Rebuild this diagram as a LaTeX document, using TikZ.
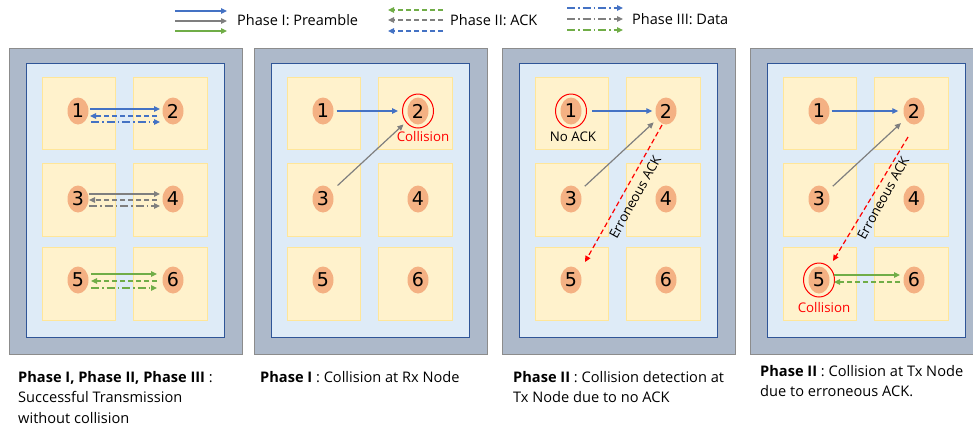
\documentclass[tikz,border=0pt]{standalone}
\usepackage{fontspec}
\setmainfont{Open Sans}
\newfontfamily\numfont{DejaVu Sans}
\usetikzlibrary{arrows.meta,calc,shapes.geometric}
\definecolor{outerfill}{HTML}{ADB9CA}
\definecolor{outerline}{HTML}{8C8C8C}
\definecolor{innerfill}{HTML}{DEEBF7}
\definecolor{innerline}{HTML}{2F5597}
\definecolor{sqfill}{HTML}{FFF2CC}
\definecolor{sqline}{HTML}{FFE699}
\definecolor{nodefill}{HTML}{F4B183}
\definecolor{cblue}{HTML}{4472C4}
\definecolor{cgray}{HTML}{7F7F7F}
\definecolor{cgreen}{HTML}{70AD47}
\definecolor{cred}{HTML}{FF0000}
\tikzset{
  outerbox/.style={fill=outerfill,draw=outerline,line width=0.8pt},
  innerbox/.style={fill=innerfill,draw=innerline,line width=1pt},
  sqbox/.style={fill=sqfill,draw=sqline,line width=0.8pt},
  num/.style={ellipse,fill=nodefill,inner sep=0pt,minimum width=21pt,minimum height=27pt,font=\numfont\fontsize{19}{19}\selectfont},
  redring/.style={ellipse,draw=cred,line width=1pt,minimum width=31pt,minimum height=34pt,inner sep=0pt},
  arr/.style={-{Triangle[length=6pt,width=5.5pt]},line width=1.2pt},
  dsh/.style={dash pattern=on 5pt off 3pt},
  ddot/.style={dash pattern=on 8pt off 3pt on 1.5pt off 3pt},
  lbl/.style={font=\fontsize{13.3}{15}\selectfont,inner sep=0pt},
  legtxt/.style={font=\fontsize{14.5}{16}\selectfont,inner sep=0pt,anchor=west},
  captxt/.style={font=\fontsize{14.6}{20.5}\selectfont,align=left,anchor=north west,inner sep=0pt},
}
\newcommand\mypanel[2]{%
  \draw[outerbox] (#1,48) rectangle ++(233,306);
  \draw[innerbox] (#1+17,63) rectangle (#1+215,337);
  \foreach \yy/\yb in {77/149,163/236,247/320}{
    \draw[sqbox] (#1+33,\yy) rectangle (#1+106,\yb);
    \draw[sqbox] (#1+124,\yy) rectangle (#1+198,\yb);
  }
  \node[num] (#2-1) at (#1+69,111) {1};
  \node[num] (#2-2) at (#1+164,111) {2};
  \node[num] (#2-3) at (#1+69,199) {3};
  \node[num] (#2-4) at (#1+164,199) {4};
  \node[num] (#2-5) at (#1+69,280) {5};
  \node[num] (#2-6) at (#1+164,280) {6};
}
\begin{document}
\begin{tikzpicture}[x=1pt,y=-1pt]
\clip (0,0) rectangle (973,432);
\useasboundingbox (0,0) rectangle (973,432);
% legend
\draw[arr,cblue]  (175,11) coordinate (la1) -- (227,11) coordinate (lb1);
\draw[arr,cgray]  (175,21) coordinate (la2) -- (227,21) coordinate (lb2);
\draw[arr,cgreen] (175,31) coordinate (la3) -- (227,31) coordinate (lb3);
\node[legtxt] (leg1) at (237,20) {Phase I: Preamble};
\draw[arr,dsh,cgreen] (443,10) coordinate (la4) -- (388,10) coordinate (lb4);
\draw[arr,dsh,cgray]  (443,20) coordinate (la5) -- (388,20) coordinate (lb5);
\draw[arr,dsh,cblue]  (443,31) coordinate (la6) -- (388,31) coordinate (lb6);
\node[legtxt] (leg2) at (450,20) {Phase II: ACK};
\draw[arr,ddot,cblue]  (567,8) coordinate (la7) -- (623,8) coordinate (lb7);
\draw[arr,ddot,cgray]  (567,19) coordinate (la8) -- (623,19) coordinate (lb8);
\draw[arr,ddot,cgreen] (567,30) coordinate (la9) -- (623,30) coordinate (lb9);
\node[legtxt] (leg3) at (632,19) {Phase III: Data};

% panel 1
\mypanel{9}{a}
\draw[arr,cblue] ($(a-1)+(12,-2)$) -- ($(a-2)+(-13,-2)$);
\draw[arr,dsh,cblue] ($(a-2)+(-16,5)$) -- ($(a-1)+(12,5)$);
\draw[arr,ddot,cblue] ($(a-1)+(13,11)$) -- ($(a-2)+(-13,11)$);
\draw[arr,cgray] ($(a-3)+(11,-5)$) -- ($(a-4)+(-13,-5)$);
\draw[arr,dsh,cgray] ($(a-4)+(-16,1)$) -- ($(a-3)+(11,1)$);
\draw[arr,ddot,cgray] ($(a-3)+(11,7)$) -- ($(a-4)+(-13,7)$);
\draw[arr,cgreen] ($(a-5)+(13,-6)$) -- ($(a-6)+(-16,-6)$);
\draw[arr,dsh,cgreen] ($(a-6)+(-16,1)$) -- ($(a-5)+(13,1)$);
\draw[arr,ddot,cgreen] ($(a-5)+(13,8)$) -- ($(a-6)+(-16,8)$);

% panel 2
\mypanel{254}{b}
\node[redring] (b-r) at (b-2) {};
\node[lbl,text=cred] (b-c) at (423,137) {Collision};
\draw[arr,cblue,shorten <=3pt,shorten >=4pt] (b-1) -- (b-r);
\draw[arr,cgray,shorten <=8pt,shorten >=8pt] (b-3) -- (b-2);

% panel 3
\mypanel{502}{c}
\node[redring] (c-r) at (c-1) {};
\node[lbl] (c-n) at (573,137) {No ACK};
\draw[arr,cblue,shorten <=5pt,shorten >=3pt] (c-r) -- (c-2);
\draw[arr,cgray,shorten <=7pt,shorten >=5pt] (c-3) -- (c-2);
\draw[arr,dsh,cred] ($(c-2)+(-4,14)$) -- ($(c-5)+(14,-18)$);
\node[lbl,rotate=61] (c-e) at (635,197) {Erroneous ACK};

% panel 4
\mypanel{750}{d}
\node[redring] (d-r) at (d-5) {};
\node[lbl,text=cred] (d-c) at (824,308) {Collision};
\draw[arr,cblue,shorten <=2pt,shorten >=5pt] (d-1) -- (d-2);
\draw[arr,cgray,shorten <=7pt,shorten >=6pt] (d-3) -- (d-2);
\draw[arr,dsh,cred] ($(d-2)+(-6,26)$) -- ($(d-5)+(14,-19)$);
\node[lbl,rotate=61] (d-e) at (883,198) {Erroneous ACK};
\draw[arr,cgreen] ($(d-5)+(15,-5)$) -- ($(d-6)+(-14,-5)$);
\draw[arr,dsh,cgreen] ($(d-6)+(-14,2)$) -- ($(d-5)+(15,2)$);

% captions
\node[captxt] (cap1) at (18,371) {\textbf{Phase I, Phase II, Phase III} :\\Successful Transmission\\without collision};
\node[captxt] (cap2) at (260,371) {\textbf{Phase I} : Collision at Rx Node};
\node[captxt] (cap3) at (513,371) {\textbf{Phase II} : Collision detection at\\Tx Node due to no ACK};
\node[captxt] (cap4) at (760,365) {\textbf{Phase II} : Collision at Tx Node\\due to erroneous ACK.};
\end{tikzpicture}
\end{document}
